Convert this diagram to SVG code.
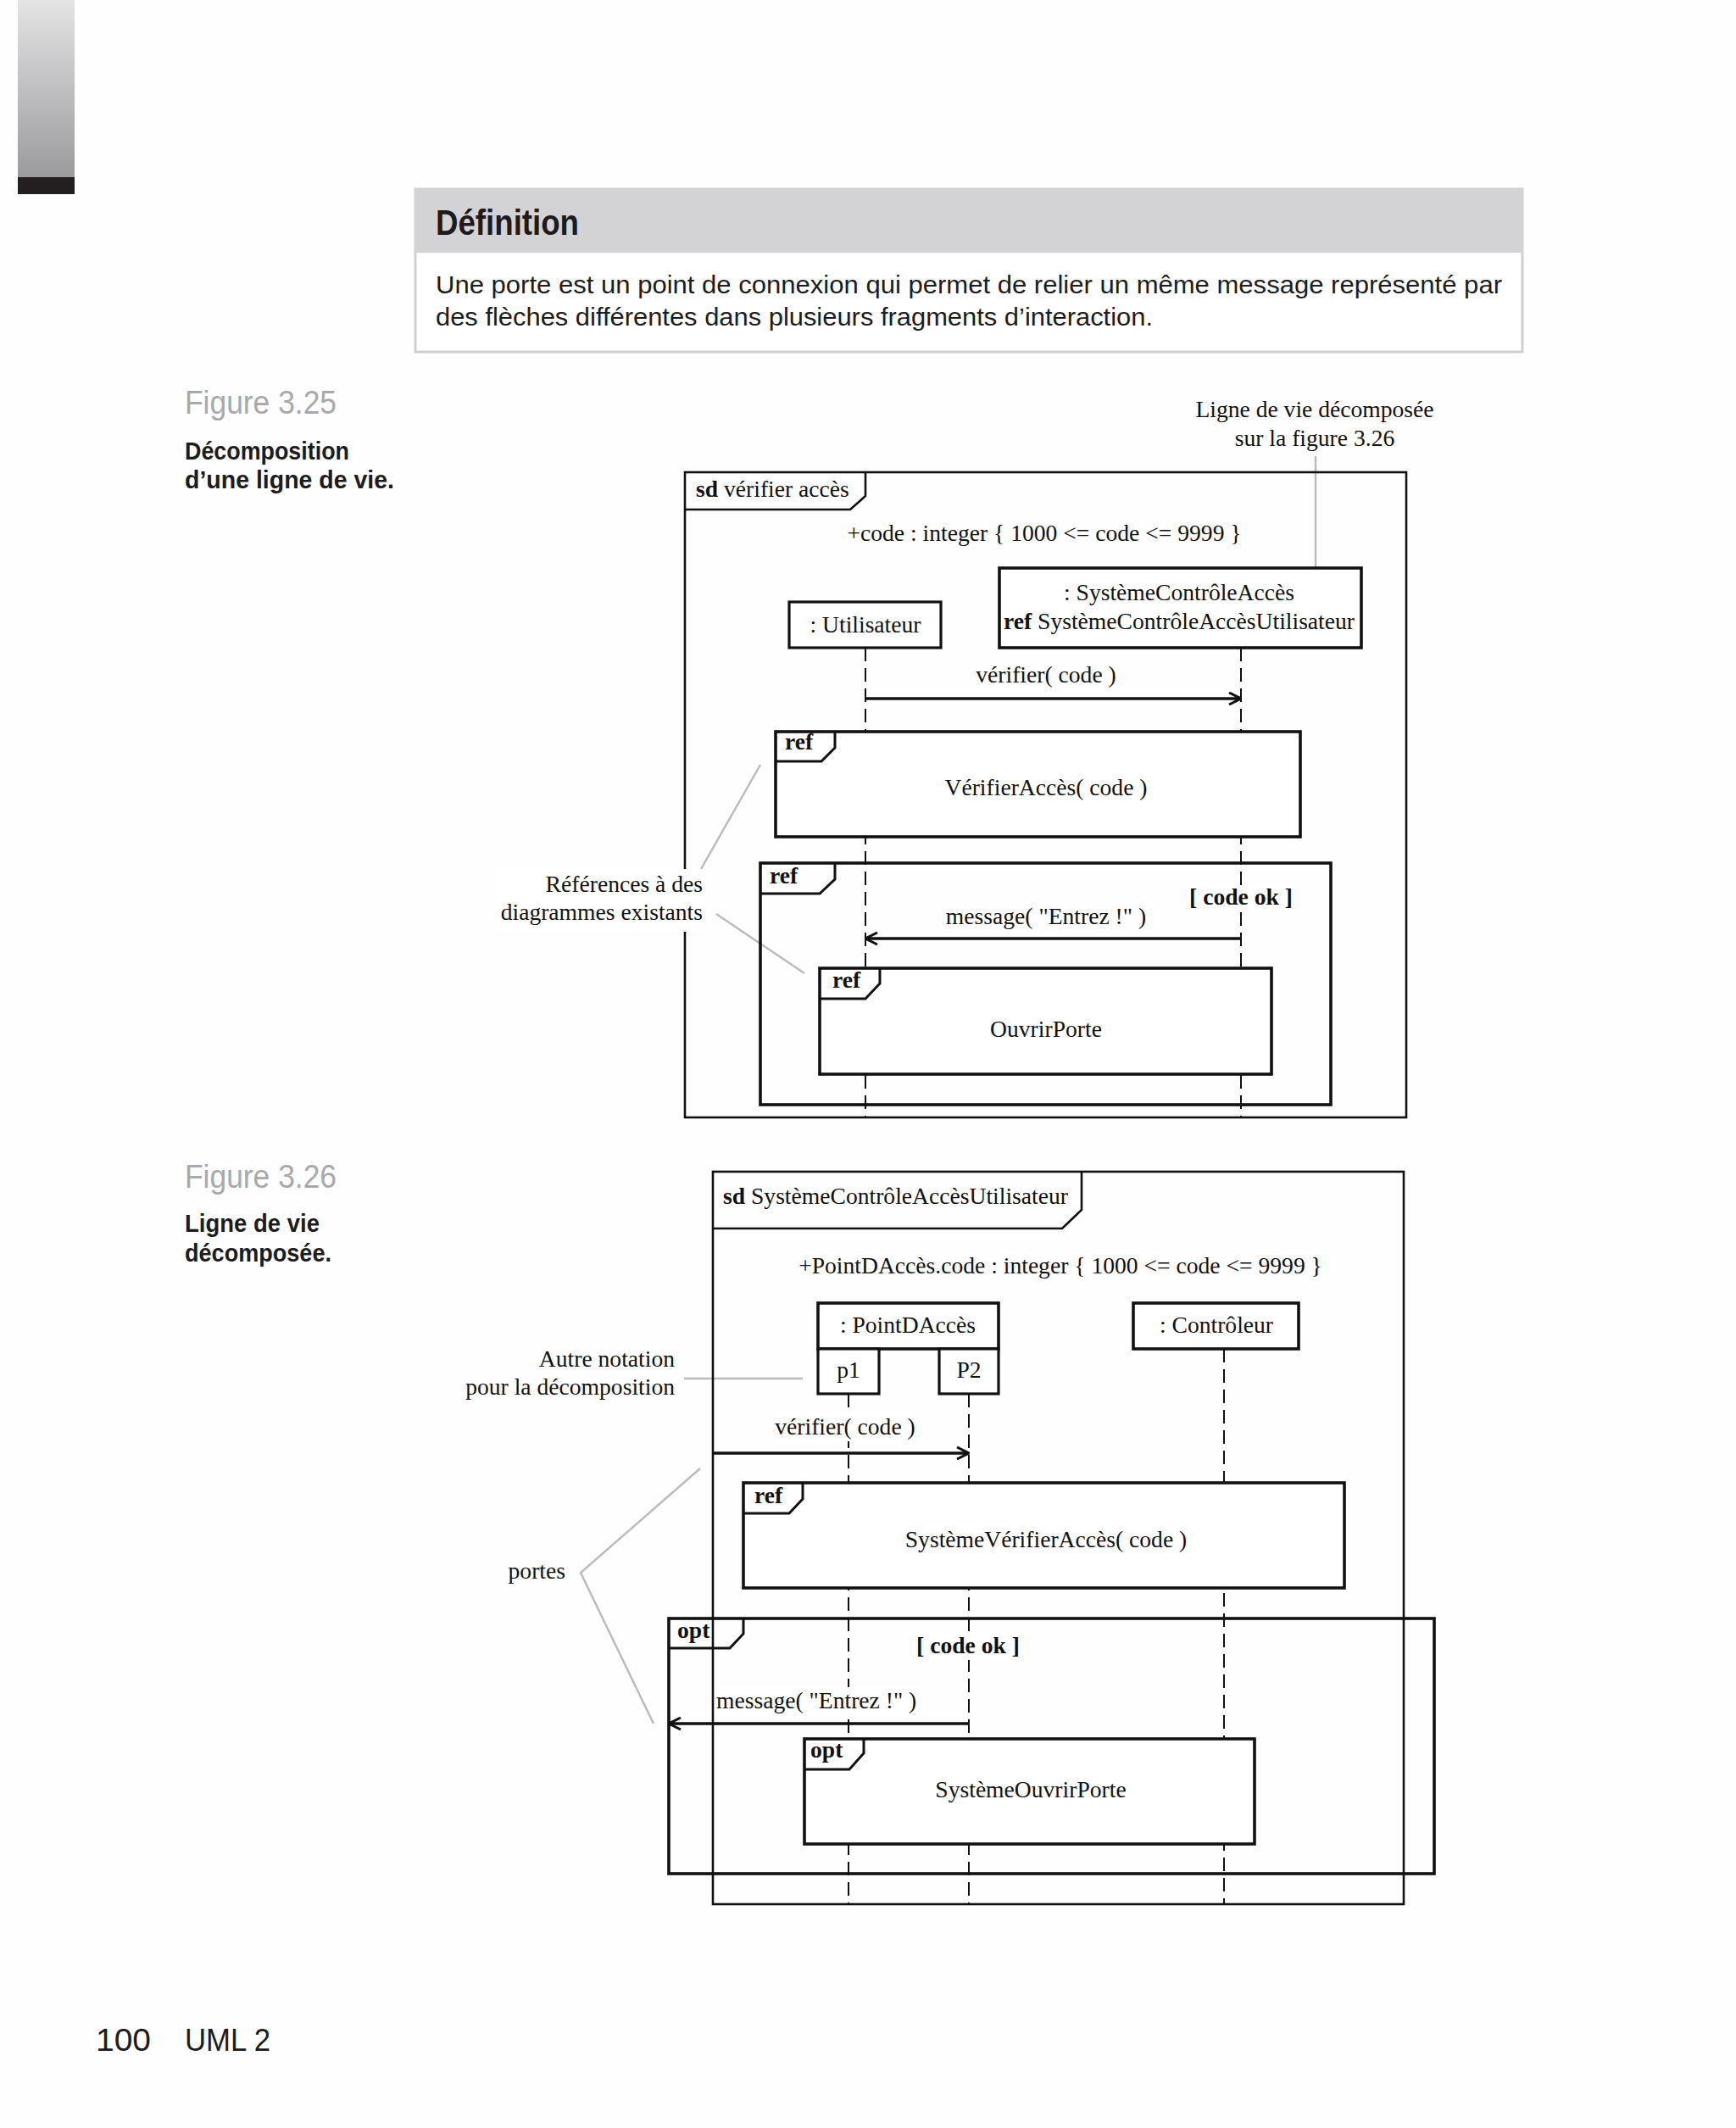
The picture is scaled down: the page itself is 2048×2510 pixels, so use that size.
<svg xmlns="http://www.w3.org/2000/svg" width="2048" height="2510" viewBox="0 0 2048 2510">
<defs>
<linearGradient id="barGrad" x1="0" y1="0" x2="0" y2="1">
<stop offset="0" stop-color="#e4e4e5"/>
<stop offset="1" stop-color="#9b9b9e"/>
</linearGradient>
<marker id="open" markerUnits="userSpaceOnUse" markerWidth="16" markerHeight="16" viewBox="0 0 16 16" refX="15" refY="8" orient="auto">
<path d="M1,1 L15,8 L1,15" fill="none" stroke="#111" stroke-width="3"/>
</marker>
</defs>
<style>
.page{font-family:"Liberation Sans","Open Sans",sans-serif;fill:#1c1c1e}
.d{font-family:"Liberation Serif","Times New Roman",serif;font-size:27.6px;fill:#111}
.b{font-weight:bold}
.mid{text-anchor:middle}
.end{text-anchor:end}
.frame{fill:none;stroke:#111;stroke-width:2.6}
.frag{fill:none;stroke:#111;stroke-width:3.6}
.box{fill:#fff;stroke:#111;stroke-width:3.6}
.hbox{fill:#fff;stroke:#111;stroke-width:3.2}
.tab{fill:none;stroke:#111;stroke-width:3}
.life{stroke:#111;stroke-width:2;stroke-dasharray:16 8;fill:none}
.msg{stroke:#111;stroke-width:3.4;fill:none;marker-end:url(#open)}
.lead{stroke:#bcbcbc;stroke-width:2.5;fill:none}
.bg{fill:#fff}
</style>
<rect x="0" y="0" width="2048" height="2510" fill="#fefefe"/>

<!-- page decoration -->
<g id="page">
<rect x="21" y="0" width="67" height="209" fill="url(#barGrad)"/>
<rect x="21" y="209" width="67" height="20" fill="#231f20"/>
<rect x="490" y="223" width="1306" height="192" fill="#fff" stroke="#cfcfd1" stroke-width="3"/>
<rect x="489" y="222" width="1308" height="76" fill="#d3d3d5"/>
<text class="page b" x="514" y="277" font-size="42" textLength="169" lengthAdjust="spacingAndGlyphs">Définition</text>
<text class="page" x="514" y="346" font-size="29" textLength="1258" lengthAdjust="spacingAndGlyphs">Une porte est un point de connexion qui permet de relier un même message représenté par</text>
<text class="page" x="514" y="384" font-size="29" textLength="846" lengthAdjust="spacingAndGlyphs">des flèches différentes dans plusieurs fragments d’interaction.</text>
<text class="page" x="218" y="488" font-size="38" style="fill:#a9a9ab" textLength="179" lengthAdjust="spacingAndGlyphs">Figure 3.25</text>
<text class="page b" x="218" y="542" font-size="29" textLength="194" lengthAdjust="spacingAndGlyphs">Décomposition</text>
<text class="page b" x="218" y="576" font-size="29" textLength="247" lengthAdjust="spacingAndGlyphs">d’une ligne de vie.</text>
<text class="page" x="218" y="1401" font-size="38" style="fill:#a9a9ab" textLength="179" lengthAdjust="spacingAndGlyphs">Figure 3.26</text>
<text class="page b" x="218" y="1453" font-size="29" textLength="159" lengthAdjust="spacingAndGlyphs">Ligne de vie</text>
<text class="page b" x="218" y="1488" font-size="29" textLength="173" lengthAdjust="spacingAndGlyphs">décomposée.</text>
<text class="page" x="113" y="2419" font-size="37" textLength="65" lengthAdjust="spacingAndGlyphs">100</text>
<text class="page" x="218" y="2419" font-size="37" textLength="101" lengthAdjust="spacingAndGlyphs">UML 2</text>
</g>

<!-- ===== Figure 3.25 ===== -->
<g id="connectors-325">
<line class="life" x1="1021" y1="764" x2="1021" y2="1318"/>
<line class="life" x1="1464" y1="764" x2="1464" y2="1318"/>
<line class="lead" x1="1552" y1="538" x2="1552" y2="670"/>
<line class="lead" x1="827" y1="1025" x2="897" y2="902"/>
<line class="lead" x1="845" y1="1078" x2="949" y2="1148"/>
<path class="msg" d="M1021,824 L1464,824"/>
<path class="msg" d="M1464,1107 L1021,1107"/>
</g>
<g id="sd-verifier-acces">
<rect class="frame" x="808" y="557" width="851" height="761"/>
<path class="frame" d="M808,601 L1003,601 L1021,585 L1021,557"/>
<text class="d" x="821" y="586"><tspan class="b">sd</tspan> vérifier accès</text>
<text class="d mid" x="1232" y="638">+code : integer { 1000 &lt;= code &lt;= 9999 }</text>
</g>
<g id="note-ligne-de-vie">
<text class="d mid" x="1551" y="492">Ligne de vie décomposée</text>
<text class="d mid" x="1551" y="526">sur la figure 3.26</text>
</g>
<g id="utilisateur">
<rect class="hbox" x="931" y="710" width="179" height="54"/>
<text class="d mid" x="1021" y="746">: Utilisateur</text>
</g>
<g id="systeme-controle-acces">
<rect class="box" x="1179" y="670" width="427" height="94"/>
<text class="d mid" x="1391" y="708">: SystèmeContrôleAccès</text>
<text class="d mid" x="1391" y="742"><tspan class="b">ref</tspan> SystèmeContrôleAccèsUtilisateur</text>
</g>
<g id="label-verifier-325">
<text class="d mid" x="1234" y="805">vérifier( code )</text>
</g>
<g id="ref-verifier-acces">
<rect class="box" x="915" y="863" width="619" height="124"/>
<path class="tab" d="M915,898 L969,898 L985,882 L985,863"/>
<text class="d b" x="926" y="884">ref</text>
<text class="d mid" x="1234" y="938">VérifierAccès( code )</text>
</g>
<g id="ref-fragment-code-ok">
<rect class="frag" x="897" y="1018" width="673" height="285"/>
<path class="tab" d="M897,1054 L967,1054 L985,1037 L985,1018"/>
<text class="d b" x="908" y="1042">ref</text>
<rect class="bg" x="1400" y="1044" width="128" height="31"/>
<text class="d b mid" x="1464" y="1067">[ code ok ]</text>
<text class="d mid" x="1234" y="1090">message( "Entrez !" )</text>
</g>
<g id="ref-ouvrir-porte">
<rect class="box" x="967" y="1142" width="533" height="125"/>
<path class="tab" d="M967,1178 L1021,1178 L1038,1160 L1038,1142"/>
<text class="d b" x="982" y="1165">ref</text>
<text class="d mid" x="1234" y="1223">OuvrirPorte</text>
</g>
<g id="note-references">
<rect class="bg" x="585" y="1025" width="247" height="74"/>
<text class="d end" x="829" y="1052">Références à des</text>
<text class="d end" x="829" y="1085">diagrammes existants</text>
</g>

<!-- ===== Figure 3.26 ===== -->
<g id="connectors-326">
<line class="life" x1="1001" y1="1644" x2="1001" y2="2246"/>
<line class="life" x1="1143" y1="1644" x2="1143" y2="2246"/>
<line class="life" x1="1444" y1="1591" x2="1444" y2="2246"/>
<line class="lead" x1="807" y1="1626" x2="947" y2="1626"/>
<polyline class="lead" points="826,1732 685,1855 771,2033"/>
</g>
<g id="sd-systeme-controle-acces-utilisateur">
<rect class="frame" x="841" y="1382" width="815" height="864"/>
<path class="frame" d="M841,1449 L1253,1449 L1276,1427 L1276,1382"/>
<text class="d" x="853" y="1420"><tspan class="b">sd</tspan> SystèmeContrôleAccèsUtilisateur</text>
<text class="d mid" x="1251" y="1502">+PointDAccès.code : integer { 1000 &lt;= code &lt;= 9999 }</text>
</g>
<g id="point-d-acces">
<rect class="box" x="965" y="1537" width="213" height="54"/>
<text class="d mid" x="1071" y="1572">: PointDAccès</text>
</g>
<g id="port-p1">
<rect class="hbox" x="965" y="1591" width="72" height="53"/>
<text class="d mid" x="1001" y="1625">p1</text>
</g>
<g id="port-p2">
<rect class="hbox" x="1108" y="1591" width="70" height="53"/>
<text class="d mid" x="1143" y="1625">P2</text>
</g>
<g id="controleur">
<rect class="box" x="1337" y="1537" width="195" height="54"/>
<text class="d mid" x="1435" y="1572">: Contrôleur</text>
</g>
<g id="note-autre-notation">
<text class="d end" x="796" y="1612">Autre notation</text>
<text class="d end" x="796" y="1645">pour la décomposition</text>
</g>
<g id="label-verifier-326">
<rect class="bg" x="910" y="1668" width="174" height="32"/>
<text class="d mid" x="997" y="1692">vérifier( code )</text>
</g>
<g id="msg-verifier-326">
<path class="msg" d="M841,1714 L1143,1714"/>
</g>
<g id="ref-systeme-verifier-acces">
<rect class="box" x="877" y="1749" width="709" height="124"/>
<path class="tab" d="M877,1785 L931,1785 L947,1768 L947,1749"/>
<text class="d b" x="890" y="1773">ref</text>
<text class="d mid" x="1234" y="1825">SystèmeVérifierAccès( code )</text>
</g>
<g id="note-portes">
<text class="d end" x="667" y="1862">portes</text>
</g>
<g id="opt-code-ok">
<rect class="frag" x="789" y="1909" width="903" height="301"/>
<path class="tab" d="M789,1944 L861,1944 L877,1927 L877,1909"/>
<text class="d b" x="799" y="1932">opt</text>
<rect class="bg" x="1078" y="1926" width="128" height="32"/>
<text class="d b mid" x="1142" y="1950">[ code ok ]</text>
<rect class="bg" x="844" y="1990" width="244" height="32"/>
<text class="d" x="845" y="2015">message( "Entrez !" )</text>
<path class="msg" d="M1143,2033 L789,2033"/>
</g>
<g id="opt-systeme-ouvrir-porte">
<rect class="box" x="949" y="2051" width="531" height="124"/>
<path class="tab" d="M949,2087 L1002,2087 L1019,2068 L1019,2051"/>
<text class="d b" x="956" y="2073">opt</text>
<text class="d mid" x="1216" y="2120">SystèmeOuvrirPorte</text>
</g>
</svg>
